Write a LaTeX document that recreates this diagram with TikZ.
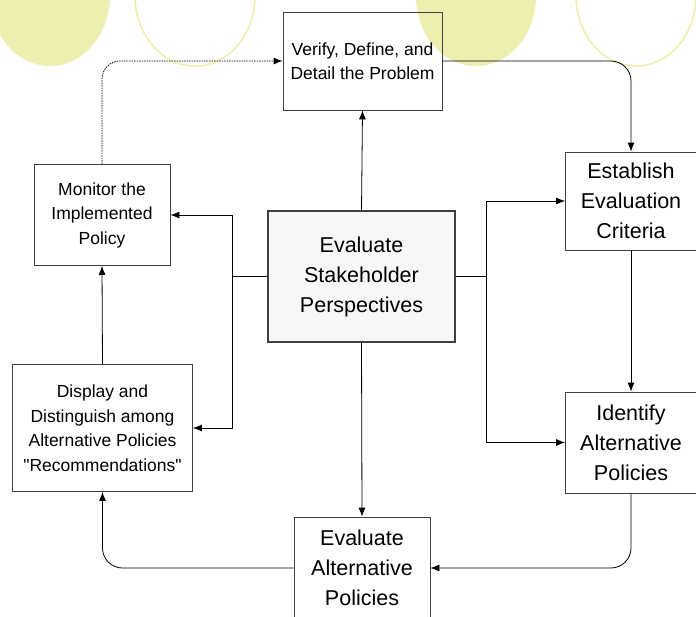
\documentclass[tikz,border=0pt]{standalone}
\usepackage{fontspec}
\setmainfont{Liberation Sans}
\usepackage{tikz}
\usetikzlibrary{arrows.meta,positioning,calc}
\definecolor{PaleYellow}{HTML}{EEEEB0}
\definecolor{LightPanel}{HTML}{F7F7F7}
\definecolor{EdgeGray}{HTML}{404040}

\begin{document}
\begin{tikzpicture}[x=1pt,y=-1pt,
    procbox/.style={draw=EdgeGray,line width=0.8pt,align=center,inner sep=0pt,font=\fontsize{17.5}{24.5}\selectfont},
    bigtext/.style={font=\fontsize{21.5}{30}\selectfont},
    link/.style={line width=0.8pt,-{Latex[length=9pt,width=7pt]}}]
  \useasboundingbox (0,0) rectangle (696,616);
  % background ellipses
  \foreach \cx/\kind in {50/fill,195/draw,476/fill,636/draw}{
    \path[\kind=PaleYellow,line width=1.6pt] (\cx,-4) ellipse [x radius=60, y radius=70];
  }
  % steps
  \node[procbox,minimum width=159,minimum height=98] (verify) at (362.5,61) {Verify, Define, and\\Detail the Problem};
  \node[procbox,minimum width=136,minimum height=101] (monitor) at (102,215) {Monitor the\\Implemented\\Policy};
  \node[procbox,bigtext,fill=LightPanel,line width=1.2pt,minimum width=187,minimum height=131] (stake) at (361.5,276.5) {Evaluate\\Stakeholder\\Perspectives};
  \node[procbox,bigtext,minimum width=131,minimum height=98] (establish) at (631,201) {Establish\\Evaluation\\Criteria};
  \node[procbox,bigtext,minimum width=131,minimum height=101] (identify) at (631,442.5) {Identify\\Alternative\\Policies};
  \node[procbox,minimum width=180,minimum height=127] (display) at (102.5,428) {Display and\\Distinguish among\\Alternative Policies\\\textquotedbl Recommendations\textquotedbl};
  \node[procbox,bigtext,minimum width=136,minimum height=102] (evalalt) at (362,568) {Evaluate\\Alternative\\Policies};
  % branch points
  \coordinate (rj) at (486,276.5);
  \coordinate (lj) at (232,276.5);
  % connectors
  \draw[link,dash pattern=on 1.5pt off 1pt,rounded corners=18pt] (monitor.north) |- (verify.west);
  \draw[link,rounded corners=20pt] (verify.east) -| (establish.north);
  \draw[link] (establish.south) -- (identify.north);
  \draw[link,rounded corners=20pt] (identify.south) |- (evalalt.east);
  \draw[link,rounded corners=20pt] (evalalt.west) -| (display.south);
  \draw[link] (display.north) -- (monitor.south);
  \draw[link] (stake.north) -- (verify.south);
  \draw[link] (stake.south) -- (evalalt.north);
  \draw[link] (stake.east) -- (rj) |- (establish.west);
  \draw[link] (rj) |- (identify.west);
  \draw[link] (stake.west) -- (lj) |- (monitor.east);
  \draw[link] (lj) |- (display.east);
\end{tikzpicture}
\end{document}
